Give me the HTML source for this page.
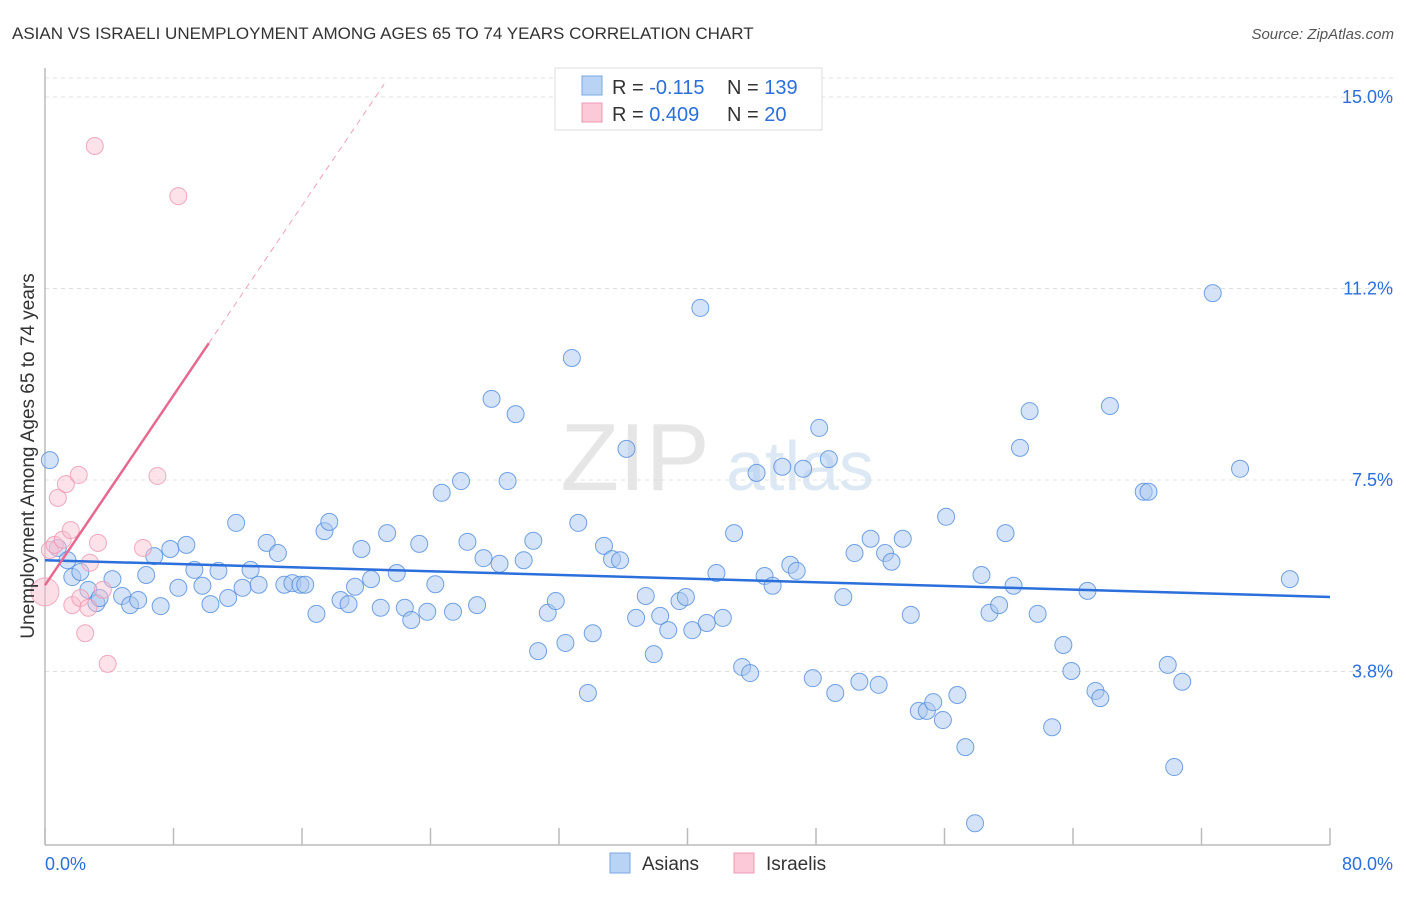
<!DOCTYPE html>
<html><head><meta charset="utf-8">
<style>
body{margin:0;background:#fff;font-family:"Liberation Sans",sans-serif;}
svg text{font-family:"Liberation Sans",sans-serif;}
</style></head>
<body>
<svg id="chart" width="1406" height="892" xmlns="http://www.w3.org/2000/svg">
<text x="12" y="39" font-size="17" fill="#333">ASIAN VS ISRAELI UNEMPLOYMENT AMONG AGES 65 TO 74 YEARS CORRELATION CHART</text>
<text x="1394" y="39" font-size="15" fill="#555" font-style="italic" text-anchor="end">Source: ZipAtlas.com</text>
<text x="635" y="490" font-size="96" fill="#e6e6e6" font-family="Liberation Serif" text-anchor="middle">ZIP</text>
<text x="800" y="490" font-size="70" fill="#dde8f5" text-anchor="middle">atlas</text>
<g id="grid"></g>
<g id="axes"></g>
<g id="pts"></g>
<g id="trend"></g>
<text x="34" y="456" font-size="19" fill="#333" text-anchor="middle" transform="rotate(-90 34 456)">Unemployment Among Ages 65 to 74 years</text>
<g>
<rect x="555" y="68" width="267" height="62" fill="#fff" stroke="#ddd"/>
<rect x="582" y="76" width="20" height="19" fill="#b9d3f5" stroke="#7aa8e4"/>
<rect x="582" y="103" width="20" height="19" fill="#fcc9d8" stroke="#ec98b0"/>
<text x="612" y="94" font-size="20" fill="#333">R = <tspan fill="#2a6fdb">-0.115</tspan></text>
<text x="727" y="94" font-size="20" fill="#333">N = <tspan fill="#2a6fdb">139</tspan></text>
<text x="612" y="121" font-size="20" fill="#333">R = <tspan fill="#2a6fdb">0.409</tspan></text>
<text x="727" y="121" font-size="20" fill="#333">N = <tspan fill="#2a6fdb"> 20</tspan></text>
</g>
<g>
<rect x="610" y="853" width="20" height="20" fill="#b9d3f5" stroke="#7aa8e4"/>
<text x="642" y="870" font-size="19" fill="#333">Asians</text>
<rect x="734" y="853" width="20" height="20" fill="#fcc9d8" stroke="#ec98b0"/>
<text x="766" y="870" font-size="19" fill="#333">Israelis</text>
</g>
</svg>
<script>
const asianX=[0.3,0.8,1.4,1.7,2.2,2.7,3.2,3.4,4.2,4.8,5.3,5.8,6.3,6.8,7.2,7.8,8.3,8.8,9.3,9.8,10.3,10.8,11.4,11.9,12.3,12.8,13.3,13.8,14.5,14.9,15.4,15.9,16.2,16.9,17.4,17.7,18.4,18.9,19.3,19.7,20.3,20.9,21.3,21.9,22.4,22.8,23.3,23.8,24.3,24.7,25.4,25.9,26.3,26.9,27.3,27.8,28.3,28.8,29.3,29.8,30.4,30.7,31.3,31.8,32.4,32.8,33.2,33.8,34.1,34.8,35.3,35.8,36.2,36.8,37.4,37.9,38.3,38.8,39.5,39.9,40.3,40.8,41.2,41.8,42.2,42.9,43.4,43.9,44.3,44.8,45.3,45.9,46.4,46.8,47.2,47.8,48.2,48.8,49.2,49.7,50.4,50.7,51.4,51.9,52.3,52.7,53.4,53.9,54.4,54.9,55.3,55.9,56.1,56.8,57.3,57.9,58.3,58.8,59.4,59.8,60.3,60.7,61.3,61.8,62.7,63.4,63.9,64.9,65.4,65.7,66.3,68.4,68.7,69.9,70.3,70.8,72.7,74.4,77.5];
const asianY=[7.89,6.17,5.93,5.60,5.70,5.35,5.09,5.19,5.56,5.23,5.05,5.15,5.64,6.01,5.03,6.15,5.39,6.23,5.74,5.43,5.07,5.72,5.19,6.66,5.39,5.74,5.45,6.27,6.07,5.45,5.48,5.45,5.45,4.88,6.50,6.68,5.15,5.07,5.41,6.15,5.56,5.00,6.46,5.68,5.00,4.76,6.25,4.92,5.46,7.25,4.92,7.48,6.29,5.05,5.97,9.09,5.86,7.48,8.79,5.93,6.31,4.15,4.90,5.13,4.31,9.89,6.66,3.33,4.50,6.21,5.95,5.93,8.11,4.80,5.23,4.09,4.84,4.56,5.13,5.21,4.56,10.87,4.70,5.68,4.80,6.46,3.84,3.72,7.64,5.62,5.43,7.76,5.84,5.72,7.72,3.62,8.52,7.91,3.33,5.21,6.07,3.55,6.35,3.49,6.07,5.90,6.35,4.86,2.98,2.98,3.15,2.80,6.78,3.29,2.27,0.78,5.64,4.90,5.05,6.46,5.43,8.13,8.85,4.88,2.66,4.27,3.76,5.33,3.37,3.23,8.95,7.27,7.27,3.88,1.88,3.55,11.16,7.72,5.56];
const israelX=[0.3,0.6,0.8,1.1,1.3,1.6,1.7,2.1,2.2,2.5,2.7,2.8,3.1,3.3,3.6,3.9,6.1,7.0,8.3];
const israelY=[6.13,6.23,7.15,6.33,7.42,6.52,5.05,7.60,5.19,4.50,5.00,5.88,14.04,6.27,5.35,3.90,6.17,7.58,13.06];
const israelBigX=[0.0];
const israelBigY=[5.31];
const asianTrend=[5.93,5.21];
const israelTrend=[5.44,10.18];
const israelTrendEndX=10.2;
const yTicks=[3.75,7.5,11.25,15.0];
const yTickLabels=["3.8%","7.5%","11.2%","15.0%"];
const xTickVals=[0,8,16,24,32,40,48,56,64,72,80];

const NS="http://www.w3.org/2000/svg";
const X0=45,X1=1330,Y15=97;
function sx(v){return X0+(v/80)*(X1-X0);}
function sy(v){return Y15+(15-v)*51.07;}
function mk(tag,attrs,parent){const e=document.createElementNS(NS,tag);for(const k in attrs)e.setAttribute(k,attrs[k]);parent.appendChild(e);return e;}

const grid=document.getElementById('grid');
const axes=document.getElementById('axes');
mk('line',{x1:X0,y1:78,x2:1395,y2:78,stroke:'#e0e0e0','stroke-dasharray':'4,4'},grid);
yTicks.forEach((t,i)=>{
  const l=mk('line',{x1:X0,y1:sy(t),x2:1395,y2:sy(t),stroke:'#e0e0e0','stroke-dasharray':'4,4'},grid);
  
  
  const tx=mk('text',{x:1393,y:sy(t)+6,'font-size':18,fill:'#2a6fdb','text-anchor':'end'},axes);
  tx.textContent=yTickLabels[i];
  
  
});
mk('line',{x1:X0,y1:68,x2:X0,y2:845,stroke:'#bbb','stroke-width':1.5},axes);
mk('line',{x1:X0,y1:845,x2:X1,y2:845,stroke:'#bbb','stroke-width':1.5},axes);
xTickVals.forEach(v=>{
  const t=mk('line',{x1:sx(v),y1:828,x2:sx(v),y2:845,stroke:'#bbb','stroke-width':1.5},axes);
  
  
});
let xl=mk('text',{x:45,y:870,'font-size':18,fill:'#2a6fdb'},axes);xl.textContent='0.0%';


xl=mk('text',{x:1393,y:870,'font-size':18,fill:'#2a6fdb','text-anchor':'end'},axes);xl.textContent='80.0%';



const pts=document.getElementById('pts');
israelBigX.forEach((x,i)=>{
  const c=mk('circle',{cx:sx(x),cy:sy(israelBigY[i]),r:14,fill:'rgba(250,190,208,0.5)',stroke:'rgba(236,150,176,0.7)','stroke-width':1},pts);
  
  
});
asianX.forEach((x,i)=>{
  const c=mk('circle',{cx:sx(x),cy:sy(asianY[i]),r:8.5,fill:'rgba(170,200,240,0.5)',stroke:'rgba(80,140,220,0.8)','stroke-width':1},pts);
  
  
});
israelX.forEach((x,i)=>{
  const c=mk('circle',{cx:sx(x),cy:sy(israelY[i]),r:8.5,fill:'rgba(250,190,208,0.45)',stroke:'rgba(236,150,176,0.8)','stroke-width':1},pts);
  
  
});

const tr=document.getElementById('trend');
let l=mk('line',{x1:sx(0),y1:sy(asianTrend[0]),x2:sx(80),y2:sy(asianTrend[1]),stroke:'#2a6fdb','stroke-width':2.5},tr);


const slope=(israelTrend[1]-israelTrend[0])/israelTrendEndX;
l=mk('line',{x1:sx(0),y1:sy(israelTrend[0]),x2:sx(israelTrendEndX),y2:sy(israelTrend[1]),stroke:'#e8698f','stroke-width':2.5},tr);


const xEnd=(15.25-israelTrend[0])/slope;
l=mk('line',{x1:sx(israelTrendEndX),y1:sy(israelTrend[1]),x2:sx(xEnd),y2:sy(15.25),stroke:'#f0a0b8','stroke-width':1,'stroke-dasharray':'6,5'},tr);


</script>
</body></html>
